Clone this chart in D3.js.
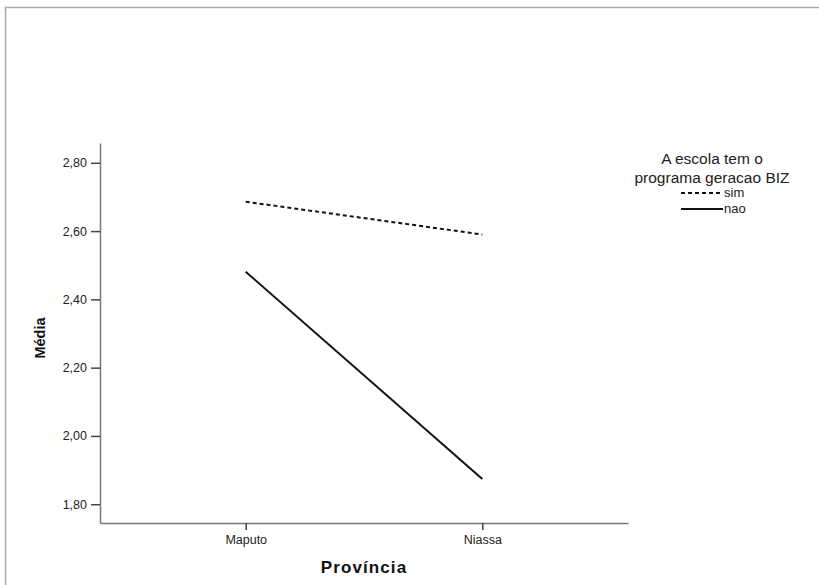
<!DOCTYPE html>
<html><head><meta charset="utf-8">
<script src="https://cdn.jsdelivr.net/npm/d3@7"></script>
<style>body{margin:0;background:#fff}svg{display:block}</style>
</head><body>
<script>
const categories = ["Maputo", "Niassa"];
const seriesNames = ["sim", "nao"];
const simValues = [2.686, 2.590];
const naoValues = [2.481, 1.874];
const yTicks = [1.80, 2.00, 2.20, 2.40, 2.60, 2.80];

const W = 819, H = 585;
const FONT = "Liberation Sans, Arial, sans-serif";
const svg = d3.select("body").append("svg").attr("width", W).attr("height", H);
svg.append("rect").attr("x", 5.5).attr("y", 7.5).attr("width", W + 10).attr("height", H + 10)
  .attr("fill", "#fff").attr("stroke", "#aaa").attr("stroke-width", 1.5);

const x = d3.scalePoint().domain(categories).range([100, 628]).padding(0.616);
const y = d3.scaleLinear().domain([1.745, 2.858]).range([523, 143]);
const fmt = d => d.toFixed(2).replace(".", ",");

const axisColor = "#777";
const yAxis = svg.append("g").attr("transform", "translate(100,0)")
  .call(d3.axisLeft(y).tickValues(yTicks).tickFormat(fmt).tickSize(9).tickSizeOuter(0).tickPadding(4));
const xAxis = svg.append("g").attr("transform", "translate(0,523)")
  .call(d3.axisBottom(x).tickSize(7).tickSizeOuter(0).tickPadding(5));
[yAxis, xAxis].forEach(g => {
  g.select(".domain").attr("stroke", axisColor).attr("stroke-width", 1.5);
  g.selectAll(".tick line").attr("stroke", "#444").attr("stroke-width", 1.5);
  g.selectAll(".tick text").attr("fill", "#222").style("font-family", FONT).style("font-size", "12.5px");
});

const line = d3.line().x((d, i) => x(categories[i])).y(d => y(d));
const series = [
  {name: seriesNames[0], values: simValues, dash: "4,3"},
  {name: seriesNames[1], values: naoValues, dash: null}
];
series.forEach(s => {
  svg.append("path").datum(s.values).attr("d", line).attr("fill", "none")
    .attr("stroke", "#111").attr("stroke-width", 2).attr("stroke-dasharray", s.dash);
});

svg.append("text").attr("transform", "translate(45,338) rotate(-90)").attr("text-anchor", "middle")
  .style("font-family", FONT).style("font-size", "14.5px").style("font-weight", "bold")
  .attr("fill", "#111").text("Média");
svg.append("text").attr("x", 364).attr("y", 573).attr("text-anchor", "middle")
  .style("font-family", FONT).style("font-size", "17px").style("font-weight", "bold")
  .style("letter-spacing", "1.1px").attr("fill", "#111").text("Província");

const lg = svg.append("g").style("font-family", FONT).attr("fill", "#222");
lg.append("text").attr("x", 712).attr("y", 164).attr("text-anchor", "middle").style("font-size", "15.5px").text("A escola tem o");
lg.append("text").attr("x", 712).attr("y", 183).attr("text-anchor", "middle").style("font-size", "15.5px").text("programa geracao BIZ");
series.forEach((s, i) => {
  const yy = 193 + i * 16;
  lg.append("line").attr("x1", 681).attr("x2", 723).attr("y1", yy).attr("y2", yy)
    .attr("stroke", "#111").attr("stroke-width", 2).attr("stroke-dasharray", s.dash);
  lg.append("text").attr("x", 724).attr("y", yy + 4).style("font-size", "13px").text(s.name);
});
</script>
</body></html>
